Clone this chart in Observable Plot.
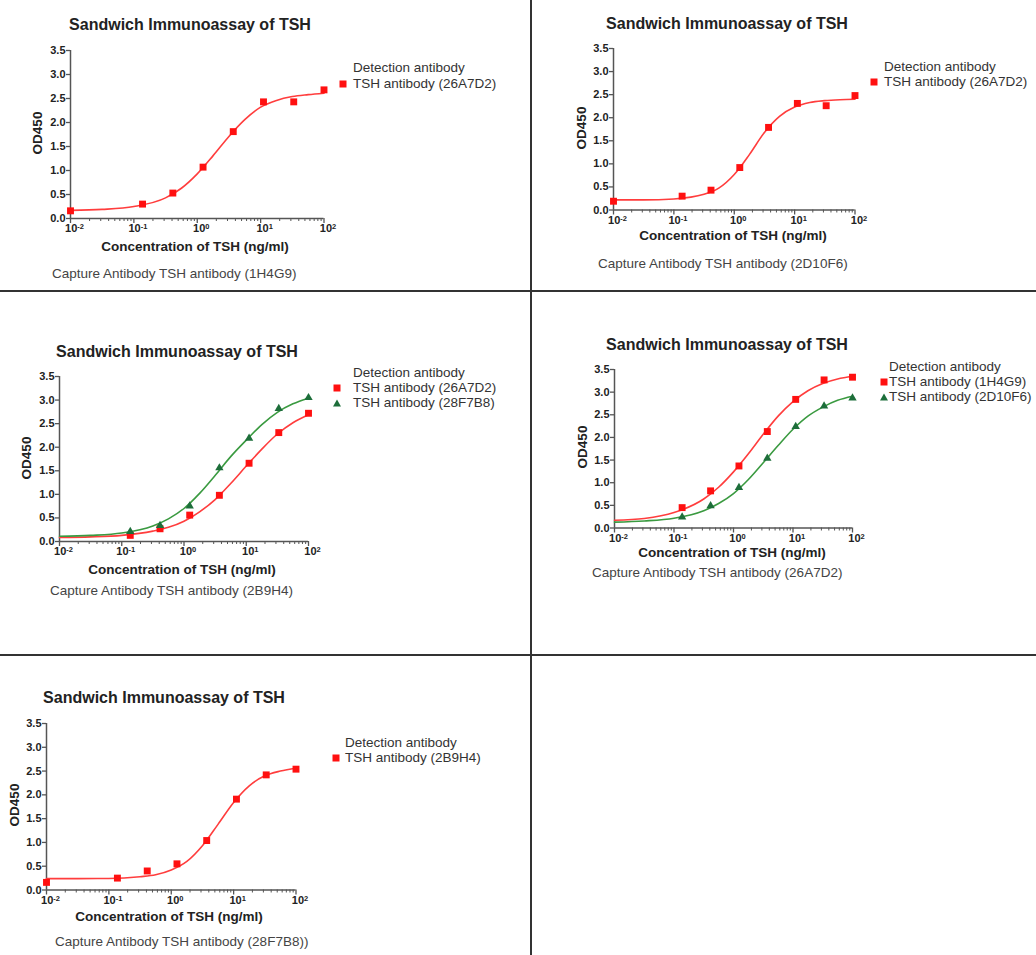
<!DOCTYPE html>
<html>
<head>
<meta charset="utf-8">
<script src="https://cdn.jsdelivr.net/npm/d3@7"></script>
<script src="https://cdn.jsdelivr.net/npm/@observablehq/plot@0.6"></script>
<style>
  html, body { margin: 0; padding: 0; background: #fff; }
  #page { position: relative; width: 1036px; height: 955px; overflow: hidden; font-family: "Liberation Sans", Arial, sans-serif; }
  .t { position: absolute; white-space: nowrap; line-height: 1; }
  .title { font-size: 16px; font-weight: bold; color: #222; transform: translate(-50%, -50%); }
  .xlab { font-size: 13.5px; font-weight: bold; color: #222; transform: translate(-50%, -50%); }
  .ylab { font-size: 13.5px; font-weight: bold; color: #222; transform: translate(-50%, -50%) rotate(-90deg); }
  .leg { font-size: 13.5px; color: #333; transform: translate(0, -50%); }
  .cap { font-size: 13.5px; color: #444; transform: translate(0, -50%); }
  .plot { position: absolute; }
  .plot svg text { font-family: "Liberation Sans", Arial, sans-serif; }
  .plot g[aria-label="y-axis tick label"] text, .plot g[aria-label="x-axis tick label"] text { font-weight: bold; fill: #222; }
  .hline { position: absolute; left: 0; width: 1036px; height: 2px; background: #333; }
  .vline { position: absolute; top: 0; height: 955px; width: 2px; background: #333; }
</style>
</head>
<body>
<div id="page"></div>
<script>
// ---------------- data ----------------
// Concentrations of TSH (ng/ml), 3-fold dilution series (blank plotted at 10^-2)
const conc = [0.01, 0.137, 0.412, 1.235, 3.70, 11.1, 33.3, 100];
const concNoBlank = [0.137, 0.412, 1.235, 3.70, 11.1, 33.3, 100];
// Sample points of the fitted curves
const curveConc = [0.01, 0.0316, 0.1, 0.316, 0.562, 1, 1.78, 3.16, 5.62, 10, 17.8, 31.6, 56.2, 100];

// Panel 1: capture 1H4G9, detection 26A7D2
const p1Points = [0.16, 0.30, 0.53, 1.07, 1.81, 2.43, 2.43, 2.68];
const p1Curve  = [0.17, 0.19, 0.25, 0.43, 0.63, 0.93, 1.31, 1.71, 2.06, 2.32, 2.46, 2.54, 2.58, 2.61];
// Panel 2: capture 2D10F6, detection 26A7D2
const p2Points = [0.19, 0.30, 0.43, 0.92, 1.79, 2.31, 2.26, 2.48];
const p2Curve  = [0.22, 0.22, 0.24, 0.34, 0.48, 0.77, 1.20, 1.68, 2.03, 2.23, 2.33, 2.37, 2.39, 2.40];
// Panel 3: capture 2B9H4, detection 26A7D2 (red) and 28F7B8 (green)
const p3RedPoints   = [0.13, 0.27, 0.56, 0.98, 1.66, 2.31, 2.72];
const p3RedCurve    = [0.086, 0.098, 0.13, 0.22, 0.30, 0.43, 0.63, 0.89, 1.23, 1.60, 1.96, 2.28, 2.52, 2.69];
const p3GreenPoints = [0.21, 0.34, 0.75, 1.56, 2.19, 2.82, 3.05];
const p3GreenCurve  = [0.11, 0.13, 0.18, 0.33, 0.48, 0.70, 1.02, 1.40, 1.80, 2.15, 2.48, 2.74, 2.92, 3.04];
// Panel 4: capture 26A7D2, detection 1H4G9 (red) and 2D10F6 (green)
const p4RedPoints   = [0.45, 0.82, 1.37, 2.13, 2.84, 3.27, 3.33];
const p4RedCurve    = [0.17, 0.21, 0.34, 0.64, 0.90, 1.24, 1.64, 2.07, 2.47, 2.79, 3.03, 3.19, 3.29, 3.35];
const p4GreenPoints = [0.24, 0.49, 0.89, 1.54, 2.24, 2.69, 2.87];
const p4GreenCurve  = [0.13, 0.155, 0.215, 0.38, 0.54, 0.76, 1.07, 1.44, 1.82, 2.18, 2.47, 2.67, 2.82, 2.91];
// Panel 5: capture 28F7B8, detection 2B9H4
const p5Points = [0.16, 0.25, 0.40, 0.55, 1.04, 1.91, 2.42, 2.54];
const p5Curve  = [0.24, 0.24, 0.243, 0.28, 0.32, 0.42, 0.60, 0.93, 1.38, 1.84, 2.19, 2.40, 2.50, 2.56];

// tick labels
const yTicks = [0, 0.5, 1, 1.5, 2, 2.5, 3, 3.5];
const xMajorTicks = [0.01, 0.1, 1, 10, 100];
const xMinorTicks = [0.02,0.03,0.04,0.05,0.06,0.07,0.08,0.09, 0.2,0.3,0.4,0.5,0.6,0.7,0.8,0.9, 2,3,4,5,6,7,8,9, 20,30,40,50,60,70,80,90];

const titleText = "Sandwich Immunoassay of TSH";
const xTitle = "Concentration of TSH (ng/ml)";
const yTitle = "OD450";
const legendTitle = "Detection antibody";

const RED_LINE = "#ff3d3d", RED_DOT = "#ff1010";
const GREEN_LINE = "#3a9a40", GREEN_DOT = "#1d6e3a";

// ---------------- layout ----------------
const panels = [
  { frame: {x0: 69.5, x1: 323, yt: 49.5, yb: 217.5},
    title: [190, 25], xl: [195, 247], yl: [38, 133], cap: [52, 274],
    caption: "Capture Antibody TSH antibody (1H4G9)",
    legend: {x: 353, y: 68, mx: 343, dy: 16},
    series: [{name: "TSH antibody (26A7D2)", xs: conc, ys: p1Points, curve: p1Curve, color: "red"}] },
  { frame: {x0: 613, x1: 854.5, yt: 47.5, yb: 209},
    title: [727, 24], xl: [733, 236], yl: [582, 128], cap: [598, 264],
    caption: "Capture Antibody TSH antibody (2D10F6)",
    legend: {x: 884, y: 67, mx: 874, dy: 15},
    series: [{name: "TSH antibody (26A7D2)", xs: conc, ys: p2Points, curve: p2Curve, color: "red"}] },
  { frame: {x0: 59, x1: 308, yt: 376, yb: 541},
    title: [177, 352], xl: [182, 570], yl: [27, 458], cap: [50, 591],
    caption: "Capture Antibody TSH antibody (2B9H4)",
    legend: {x: 353, y: 373, mx: 337, dy: 15},
    series: [{name: "TSH antibody (26A7D2)", xs: concNoBlank, ys: p3RedPoints, curve: p3RedCurve, color: "red"},
             {name: "TSH antibody (28F7B8)", xs: concNoBlank, ys: p3GreenPoints, curve: p3GreenCurve, color: "green"}] },
  { frame: {x0: 614, x1: 852, yt: 368.5, yb: 527},
    title: [727, 345], xl: [732, 553], yl: [583, 447], cap: [592, 573],
    caption: "Capture Antibody TSH antibody (26A7D2)",
    legend: {x: 889, y: 367, mx: 884, dy: 15},
    series: [{name: "TSH antibody (1H4G9)", xs: concNoBlank, ys: p4RedPoints, curve: p4RedCurve, color: "red"},
             {name: "TSH antibody (2D10F6)", xs: concNoBlank, ys: p4GreenPoints, curve: p4GreenCurve, color: "green"}] },
  { frame: {x0: 46, x1: 295.5, yt: 722.5, yb: 889},
    title: [164, 698], xl: [169, 917], yl: [15, 805], cap: [55, 942],
    caption: "Capture Antibody TSH antibody (28F7B8))",
    legend: {x: 345, y: 743, mx: 336, dy: 15},
    series: [{name: "TSH antibody (2B9H4)", xs: conc, ys: p5Points, curve: p5Curve, color: "red"}] }
];

const page = document.getElementById("page");

function addText(cls, txt, x, y) {
  const d = document.createElement("div");
  d.className = "t " + cls;
  d.textContent = txt;
  d.style.left = x + "px";
  d.style.top = y + "px";
  page.appendChild(d);
  return d;
}

function addMarker(color, x, y) {
  const ns = "http://www.w3.org/2000/svg";
  const s = document.createElementNS(ns, "svg");
  s.setAttribute("width", 10); s.setAttribute("height", 10);
  s.style.position = "absolute";
  s.style.left = (x - 5) + "px"; s.style.top = (y - 5) + "px";
  let shape;
  if (color === "red") {
    shape = document.createElementNS(ns, "rect");
    shape.setAttribute("x", 1.5); shape.setAttribute("y", 1.5);
    shape.setAttribute("width", 7); shape.setAttribute("height", 7);
    shape.setAttribute("fill", RED_DOT);
  } else {
    shape = document.createElementNS(ns, "path");
    shape.setAttribute("d", "M5,1.5 L9,8.5 L1,8.5 Z");
    shape.setAttribute("fill", GREEN_DOT);
  }
  s.appendChild(shape);
  page.appendChild(s);
}

function supLabels(svg) {
  const ns = "http://www.w3.org/2000/svg";
  svg.querySelectorAll('g[aria-label="x-axis tick label"] text').forEach(t => {
    const exp = t.textContent;
    if (exp === "") return;
    t.textContent = "";
    const a = document.createElementNS(ns, "tspan");
    a.textContent = "10";
    const b = document.createElementNS(ns, "tspan");
    b.textContent = exp;
    b.setAttribute("dy", "-0.4em");
    b.setAttribute("font-size", "7.5");
    t.appendChild(a); t.appendChild(b);
    t.setAttribute("dx", "4");
  });
}

panels.forEach(p => {
  const mL = 34, mR = 14, mT = 8, mB = 24;
  const f = p.frame;
  const w = f.x1 - f.x0, h = f.yb - f.yt;
  const unitsPerPx = 3.5 / h;
  const marks = [
    Plot.axisY({ticks: yTicks, tickSize: 4, tickPadding: 1, fontSize: 11, tickFormat: d3.format(".1f"), label: null, stroke: "#555", strokeWidth: 1.3}),
    // minor decade ticks (short, below the axis line)
    Plot.ruleX(xMinorTicks, {x: d => d, y1: 0, y2: -3 * unitsPerPx, stroke: "#555", strokeWidth: 1}),
    Plot.axisX({ticks: xMajorTicks, tickSize: 5, tickPadding: 1, fontSize: 11,
      tickFormat: d => String(Math.round(Math.log10(d))), label: null, stroke: "#555", strokeWidth: 1.3}),
    Plot.ruleX([0.01], {y1: 0, y2: 3.5, stroke: "#555", strokeWidth: 1.5}),
    Plot.ruleY([0], {stroke: "#555", strokeWidth: 1.5})
  ];
  p.series.forEach(s => {
    const lineColor = s.color === "red" ? RED_LINE : GREEN_LINE;
    const dotColor = s.color === "red" ? RED_DOT : GREEN_DOT;
    const curveRows = curveConc.map((c, i) => ({x: c, y: s.curve[i]}));
    const pointRows = s.xs.map((c, i) => ({x: c, y: s.ys[i]}));
    marks.push(Plot.line(curveRows, {x: "x", y: "y", stroke: lineColor, strokeWidth: 1.6, curve: "monotone-x"}));
    marks.push(Plot.dot(pointRows, {x: "x", y: "y", fill: dotColor, stroke: "none",
      symbol: s.color === "red" ? "square" : "triangle", r: s.color === "red" ? 3.9 : 3.1}));
  });
  const chart = Plot.plot({
    width: w + mL + mR, height: h + mT + mB,
    marginLeft: mL, marginRight: mR, marginTop: mT, marginBottom: mB,
    style: {background: "transparent", overflow: "visible", color: "#222"},
    x: {type: "log", domain: [0.01, 100]},
    y: {domain: [0, 3.5]},
    marks
  });
  supLabels(chart);
  const wrap = document.createElement("div");
  wrap.className = "plot";
  wrap.style.left = (f.x0 - mL) + "px";
  wrap.style.top = (f.yt - mT) + "px";
  wrap.appendChild(chart);
  page.appendChild(wrap);

  addText("title", titleText, p.title[0], p.title[1]);
  addText("xlab", xTitle, p.xl[0], p.xl[1]);
  addText("ylab", yTitle, p.yl[0], p.yl[1]);
  addText("cap", p.caption, p.cap[0], p.cap[1]);
  addText("leg", legendTitle, p.legend.x, p.legend.y);
  p.series.forEach((s, i) => {
    const yy = p.legend.y + p.legend.dy * (i + 1);
    addText("leg", s.name, p.legend.x, yy);
    addMarker(s.color, p.legend.mx, yy);
  });
});

// grid separators
[291, 655].forEach(y => {
  const d = document.createElement("div");
  d.className = "hline"; d.style.top = (y - 1) + "px"; page.appendChild(d);
});
{
  const d = document.createElement("div");
  d.className = "vline"; d.style.left = "530px"; page.appendChild(d);
}
</script>
</body>
</html>
